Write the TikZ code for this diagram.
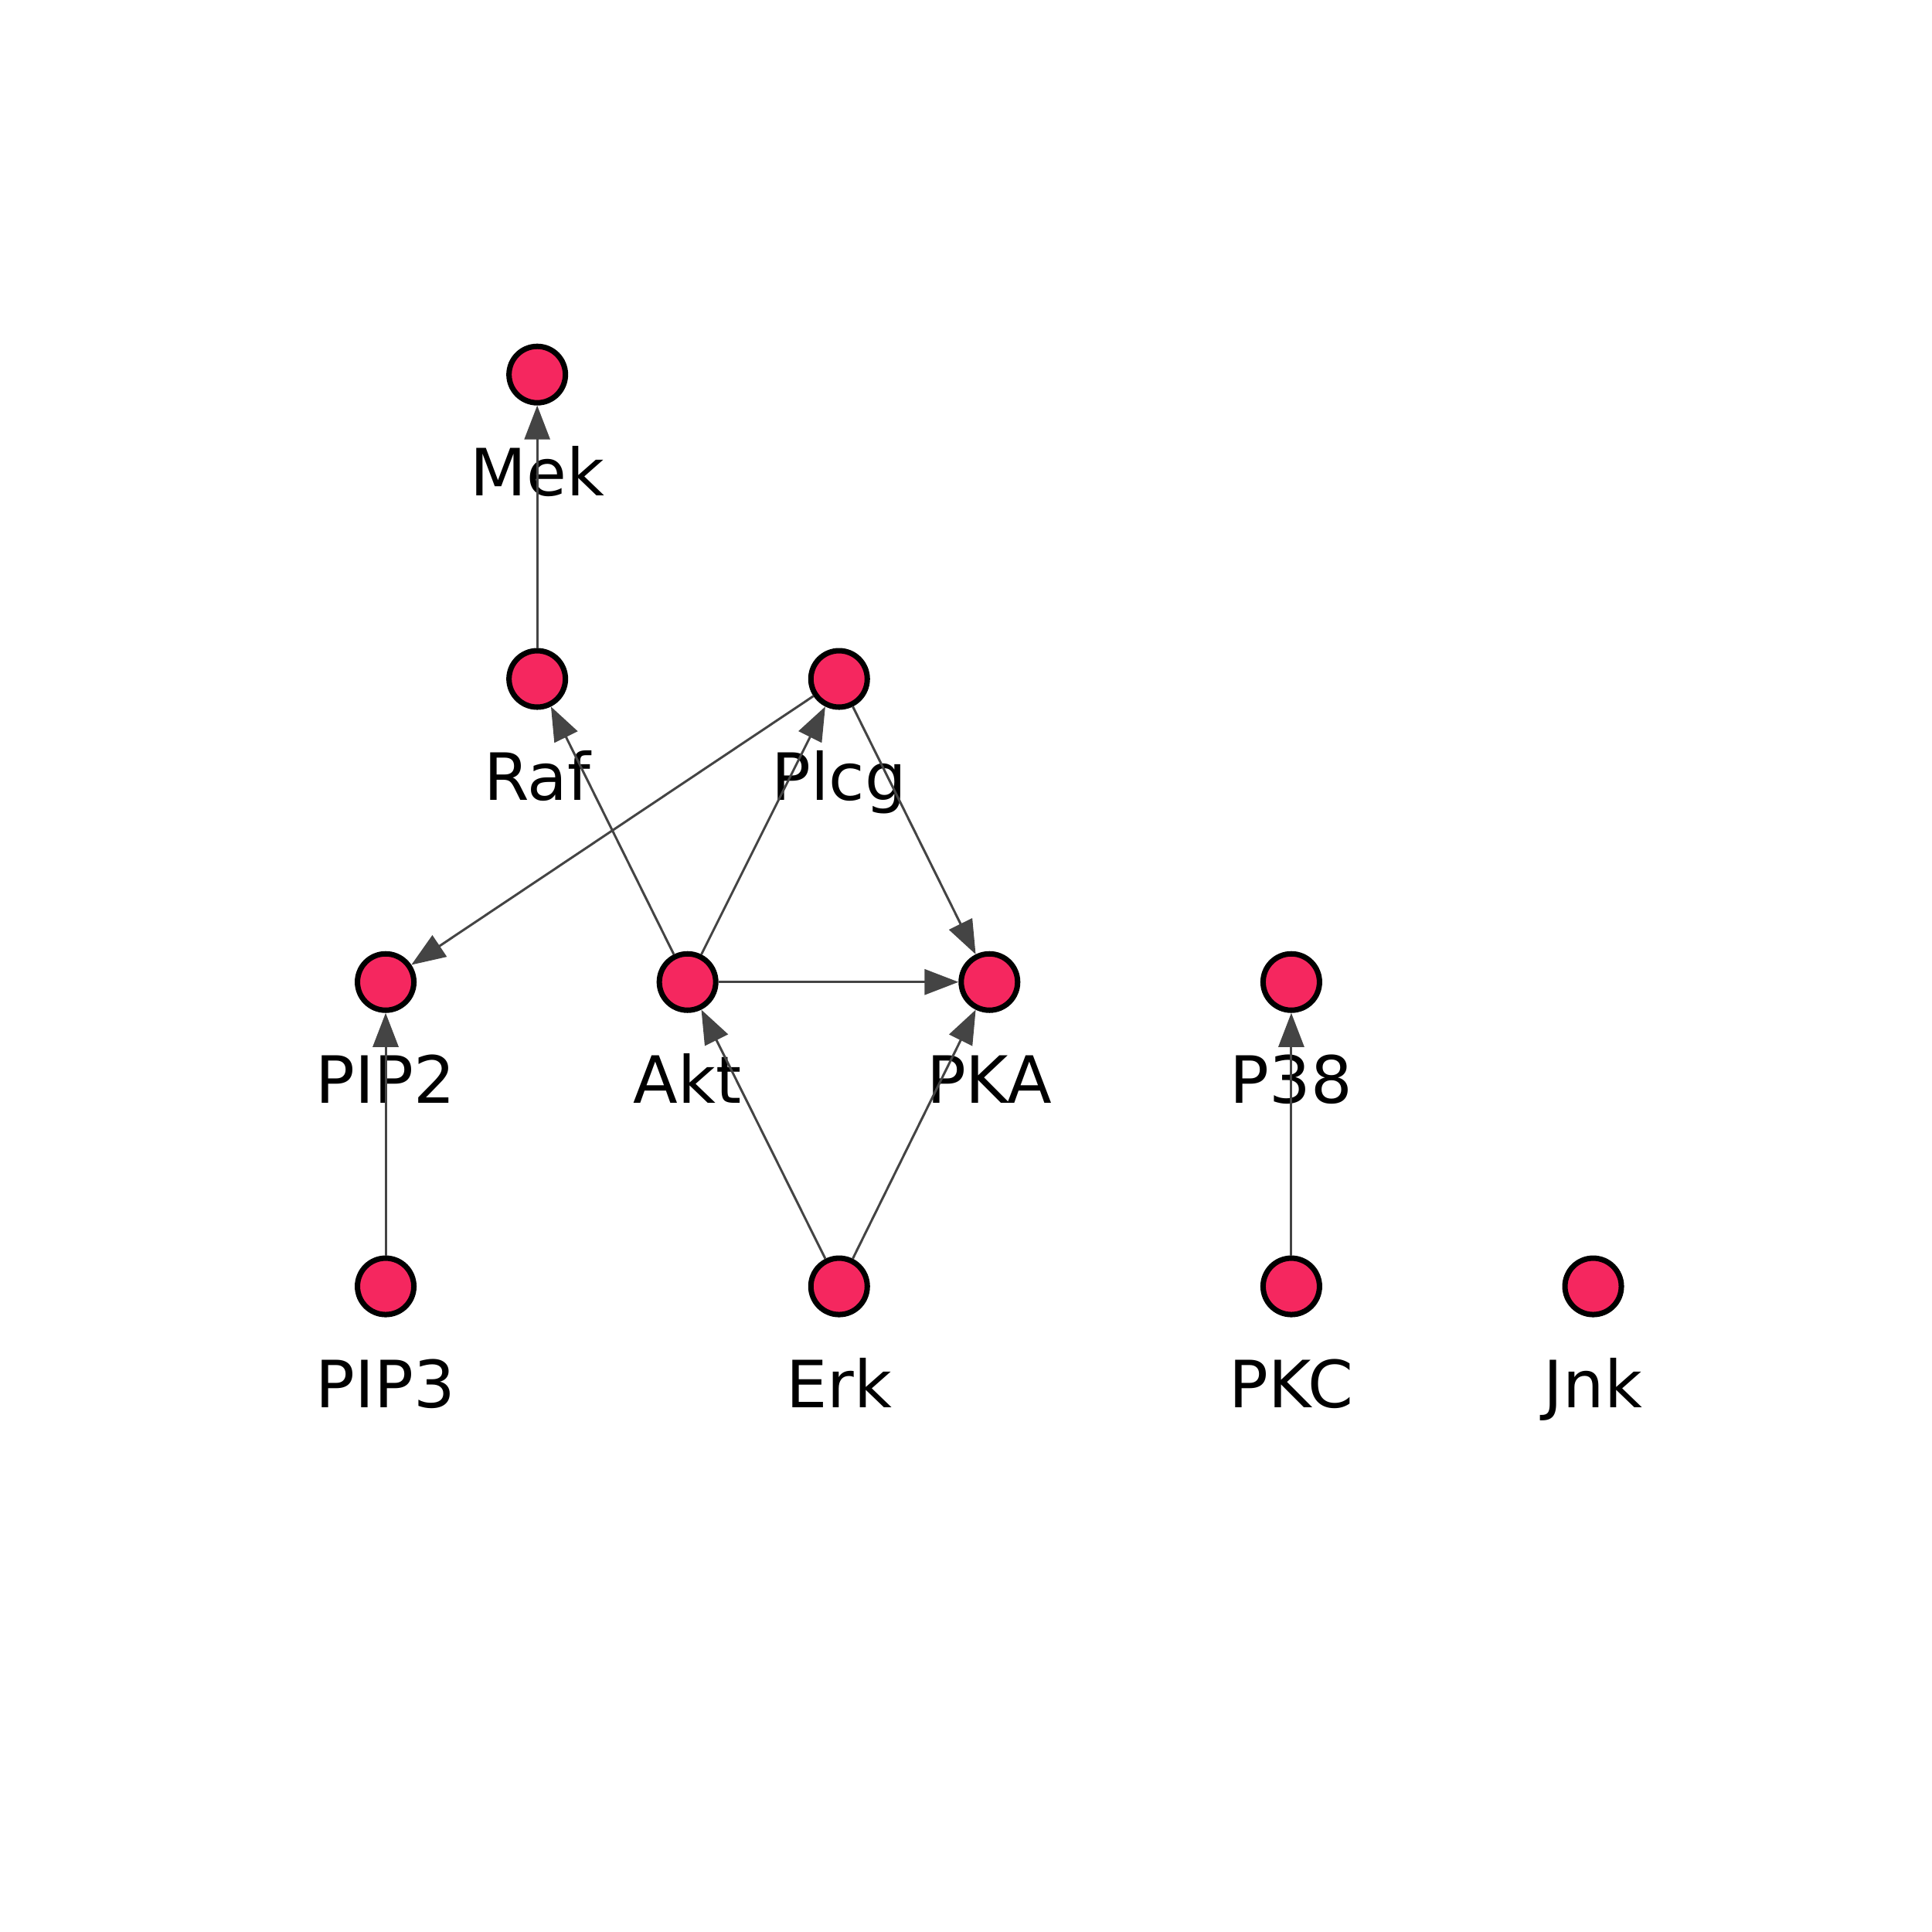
\documentclass[tikz,border=0pt]{standalone}
\usepackage{fontspec}
\setmainfont{DejaVu Sans}
\usetikzlibrary{arrows.meta}
\definecolor{nodefill}{HTML}{F5275F}
\definecolor{edgegray}{HTML}{444444}

\begin{document}
\begin{tikzpicture}[
			x=0.015944cm, y=-0.015944cm,
			protein/.style={circle, draw=black, fill=nodefill, line width=2pt, minimum size=0.73cm, inner sep=0pt,
				label={[anchor=base, label distance=1.17cm, font=\fontsize{24}{29}\selectfont]below:#1}},
			edge/.style={draw=edgegray, line width=0.85pt, -{Triangle[length=4.4mm, width=3.3mm]}}
			]
			\useasboundingbox (0,0) rectangle (1568,1568);
			
			% Proteins
			\node[protein=Mek]  (mek)  at (436,304)  {};
			\node[protein=Raf]  (raf)  at (436,551)  {};
			\node[protein=Plcg] (plcg) at (681,551)  {};
			\node[protein=PIP2] (pip2) at (313,797)  {};
			\node[protein=Akt]  (akt)  at (558,797)  {};
			\node[protein=PKA]  (pka)  at (803,797)  {};
			\node[protein=P38]  (p38)  at (1048,797) {};
			\node[protein=PIP3] (pip3) at (313,1044) {};
			\node[protein=Erk]  (erk)  at (681,1044) {};
			\node[protein=PKC]  (pkc)  at (1048,1044) {};
			\node[protein=Jnk]  (jnk)  at (1293,1044) {};
			
			% Interactions
			\draw[edge] (raf) -- (mek);
			\draw[edge] (akt) -- (raf);
			\draw[edge] (akt) -- (plcg);
			\draw[edge] (plcg) -- (pip2);
			\draw[edge] (plcg) -- (pka);
			\draw[edge] (akt) -- (pka);
			\draw[edge] (erk) -- (akt);
			\draw[edge] (erk) -- (pka);
			\draw[edge] (pip3) -- (pip2);
			\draw[edge] (pkc) -- (p38);
			
		\end{tikzpicture}
\end{document}
